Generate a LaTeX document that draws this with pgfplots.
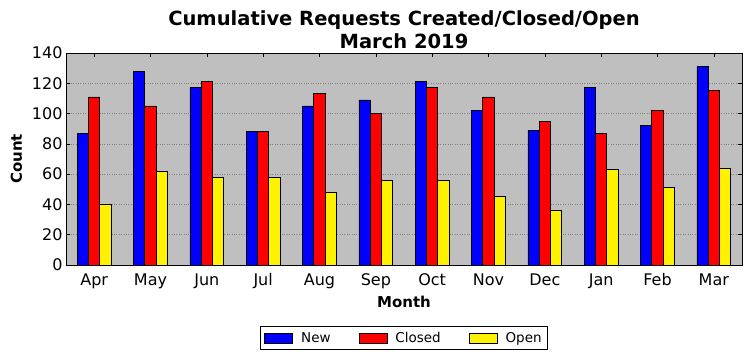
\documentclass[border=0pt]{standalone}
\usepackage{pgfplots}
\pgfplotsset{compat=1.18}
\usepackage{fontspec}
\setmainfont{DejaVu Sans}
\definecolor{bgsilver}{HTML}{BFBFBF}
\begin{document}
\begin{tikzpicture}[x=1pt,y=1pt]
\useasboundingbox (-66,-96) rectangle (686,265);
\begin{axis}[
  at={(0,0)}, anchor=south west,
  width=676pt, height=212pt, scale only axis,
  ybar=0pt, bar width=0.2,
  xmin=-0.5, xmax=11.5, ymin=0, ymax=140,
  xtick={0,...,11},
  xticklabels={Apr,May,Jun,Jul,Aug,Sep,Oct,Nov,Dec,Jan,Feb,Mar},
  ytick={0,20,...,140},
  tick align=inside, major tick length=4pt,
  tick style={black, line width=0.6pt},
  axis line style={black, line width=0.8pt},
  axis background/.style={fill=bgsilver},
  ymajorgrids, grid style={gray, dotted, line width=0.6pt},
  ticklabel style={font=\fontsize{16}{18}\selectfont},
  xticklabel style={yshift=-5pt},
  /pgf/number format/assume math mode=true,
  xlabel={\textbf{Month}}, ylabel={\textbf{Count}},
  ylabel shift=3pt,
  label style={font=\fontsize{15}{17}\selectfont},
  title style={font=\fontsize{19.5}{23}\selectfont\bfseries, align=center, yshift=-5pt},
  title={Cumulative Requests Created/Closed/Open\\March 2019},
  legend style={at={(0.5,-0.344)}, anchor=center, legend columns=3,
    font=\fontsize{13.5}{16}\selectfont, draw=black, line width=0.8pt,
    inner xsep=4pt, inner ysep=4pt,
    /tikz/every odd column/.append style={column sep=6pt},
    /tikz/every even column/.append style={column sep=26pt}},
  legend image code/.code={\draw[#1, line width=0.8pt] (0pt,-5pt) rectangle (28pt,5pt);},
]
\addplot[fill=blue, draw=black, line width=0.8pt] coordinates {(0,87) (1,128) (2,117) (3,88) (4,105) (5,109) (6,121) (7,102) (8,89) (9,117) (10,92) (11,131)};
\addplot[fill=red, draw=black, line width=0.8pt] coordinates {(0,111) (1,105) (2,121) (3,88) (4,113) (5,100) (6,117) (7,111) (8,95) (9,87) (10,102) (11,115)};
\addplot[fill=yellow, draw=black, line width=0.8pt] coordinates {(0,40) (1,62) (2,58) (3,58) (4,48) (5,56) (6,56) (7,45) (8,36) (9,63) (10,51) (11,64)};
\legend{New, Closed, Open}
\end{axis}
\end{tikzpicture}
\end{document}
